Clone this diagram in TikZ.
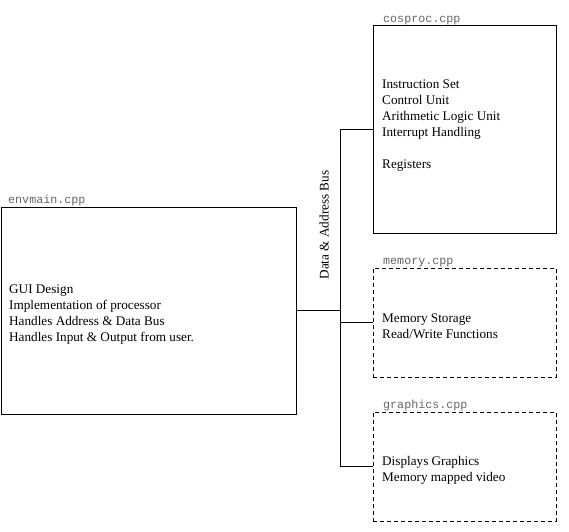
\documentclass[tikz,border=0pt]{standalone}
\usepackage{fontspec}
\setmainfont{Liberation Serif}
\setmonofont{Liberation Mono}
\usetikzlibrary{calc}
\begin{document}
\begin{tikzpicture}[x=1pt,y=-1pt,
  box/.style={draw=black,line width=1pt,minimum width=#1,inner sep=0pt},
  solidbox/.style={box=183pt},
  dashbox/.style={box=183pt,dash pattern=on 4pt off 3pt},
  body/.style={font=\fontsize{13.2}{16}\selectfont,align=left,anchor=west,inner sep=0pt},
  fname/.style={font=\fontsize{11.7}{14}\selectfont\ttfamily,text=black!60,anchor=base west,inner sep=0pt},
  wire/.style={line width=1pt}]
\useasboundingbox (0,0) rectangle (569,531);
% boxes
\node[box=295pt,minimum height=207.5pt] (env) at (148.5,310.75) {};
\node[solidbox,minimum height=208pt] (cos) at (464.5,129) {};
\node[dashbox,minimum height=109pt] (mem) at (464.5,322.5) {};
\node[dashbox,minimum height=109pt] (gfx) at (464.5,466.5) {};
% file names
\node[fname] (envl) at (8,203) {envmain.cpp};
\node[fname] (cosl) at (383,22) {cosproc.cpp};
\node[fname] (meml) at (383,264) {memory.cpp};
\node[fname] (gfxl) at (383,408) {graphics.cpp};
% contents
\node[body] (envt) at (9,314.5) {GUI Design\\Implementation of processor\\Handles Address \& Data Bus\\Handles Input \& Output from user.};
\node[body] (cost) at (382,125.5) {Instruction Set\\Control Unit\\Arithmetic Logic Unit\\Interrupt Handling\\[16pt]Registers};
\node[body] (memt) at (382,326.5) {Memory Storage\\Read/Write Functions};
\node[body] (gfxt) at (382,470) {Displays Graphics\\Memory mapped video};
% bus
\coordinate (bt) at ($(cos.west)+(-32,0)$);
\coordinate (bb) at ($(gfx.west)+(-32,0)$);
\draw[wire] (cos.west) -- (bt) -- (bb) -- (gfx.west);
\draw[wire] (env.east) -- (env.east -| bt);
\draw[wire] (mem.west) -- (mem.west -| bt);
\node[font=\fontsize{13.2}{16}\selectfont,rotate=90,inner sep=0pt] (busl) at (324,225) {Data \& Address Bus};
\end{tikzpicture}
\end{document}
